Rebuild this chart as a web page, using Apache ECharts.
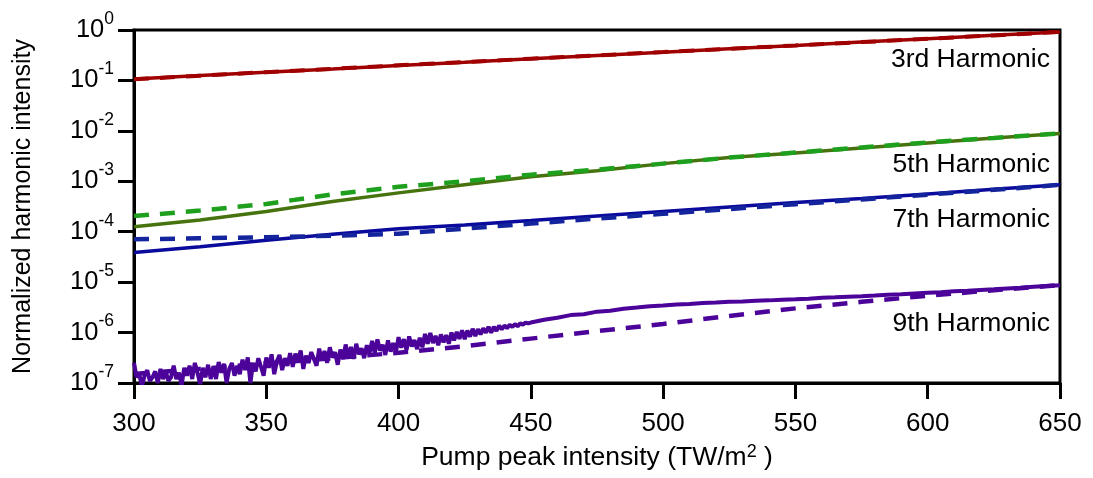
<!DOCTYPE html>
<html>
<head>
<meta charset="utf-8">
<script src="https://cdn.jsdelivr.net/npm/echarts@6/dist/echarts.min.js"></script>
<style>
  html, body { margin: 0; padding: 0; background: #fff; }
  #chart { width: 1093px; height: 478px; }
</style>
</head>
<body>
<div id="chart"></div>
<script>
// Pump peak intensity sampling (TW/m^2) for the smooth curves
const pumpGrid = [300, 325, 350, 375, 400, 425, 450, 475, 500, 525, 550, 575, 600, 625, 650];

// 3rd harmonic
const h3Measured = [0.107, 0.125, 0.146, 0.169, 0.198, 0.230, 0.269, 0.313, 0.364, 0.425, 0.494, 0.577, 0.671, 0.783, 0.912];
const h3Fit      = [0.105, 0.124, 0.146, 0.170, 0.199, 0.231, 0.270, 0.314, 0.365, 0.425, 0.493, 0.575, 0.670, 0.782, 0.915];

// 5th harmonic
const h5Measured = [1.26e-4, 1.70e-4, 2.51e-4, 3.98e-4, 5.89e-4, 8.51e-4, 1.23e-3, 1.62e-3, 2.24e-3, 2.95e-3, 3.63e-3, 4.57e-3, 5.75e-3, 7.24e-3, 8.91e-3];
const h5Fit      = [2.04e-4, 2.63e-4, 3.55e-4, 5.50e-4, 7.76e-4, 1.00e-3, 1.35e-3, 1.70e-3, 2.24e-3, 2.95e-3, 3.72e-3, 4.68e-3, 5.89e-3, 7.24e-3, 8.91e-3];

// 7th harmonic
const h7Measured = [3.89e-5, 5.01e-5, 6.76e-5, 8.91e-5, 1.15e-4, 1.36e-4, 1.66e-4, 2.04e-4, 2.51e-4, 3.09e-4, 3.80e-4, 4.57e-4, 5.62e-4, 6.92e-4, 8.51e-4];
const h7Fit      = [7.08e-5, 7.41e-5, 7.76e-5, 8.32e-5, 9.12e-5, 1.15e-4, 1.45e-4, 1.82e-4, 2.26e-4, 2.82e-4, 3.51e-4, 4.37e-4, 5.43e-4, 6.76e-4, 8.51e-4];

// 9th harmonic fit
const h9Fit      = [1.51e-7, 1.91e-7, 2.45e-7, 3.09e-7, 3.98e-7, 5.37e-7, 7.59e-7, 1.07e-6, 1.48e-6, 2.14e-6, 3.02e-6, 4.07e-6, 5.37e-6, 6.92e-6, 8.71e-6];

// 9th harmonic measurement: dense, noisy near the detection floor
const pump9 = [
  300, 301, 302, 303, 304, 305, 306, 307, 308, 309,
  310, 311, 312, 313, 314, 315, 316, 317, 318, 319,
  320, 321, 322, 323, 324, 325, 326, 327, 328, 329,
  330, 331, 332, 333, 334, 335, 336, 337, 338, 339,
  340, 341, 342, 343, 344, 345, 346, 347, 348, 349,
  350, 351, 352, 353, 354, 355, 356, 357, 358, 359,
  360, 361, 362, 363, 364, 365, 366, 367, 368, 369,
  370, 371, 372, 373, 374, 375, 376, 377, 378, 379,
  380, 381, 382, 383, 384, 385, 386, 387, 388, 389,
  390, 391, 392, 393, 394, 395, 396, 397, 398, 399,
  400, 401, 402, 403, 404, 405, 406, 407, 408, 409,
  410, 411, 412, 413, 414, 415, 416, 417, 418, 419,
  420, 421, 422, 423, 424, 425, 426, 427, 428, 429,
  430, 431, 432, 433, 434, 435, 436, 437, 438, 439,
  440, 441, 442, 443, 444, 445, 446, 447, 448, 449, 450,
  455, 460, 465, 470, 475, 480, 485, 490, 495, 500,
  505, 510, 515, 520, 525, 530, 535, 540, 545, 550,
  555, 560, 565, 570, 575, 580, 585, 590, 595, 600,
  605, 610, 615, 620, 625, 630, 635, 640, 645, 650
];
const h9Measured = [
  2.5e-7, 1.3e-7, 1.5e-7, 0.85e-7, 1.4e-7, 1.8e-7, 1.1e-7, 1.3e-7, 1.7e-7, 1.0e-7,
  1.9e-7, 1.2e-7, 1.7e-7, 1.1e-7, 1.3e-7, 2.2e-7, 1.2e-7, 1.6e-7, 0.9e-7, 2.0e-7,
  1.4e-7, 2.2e-7, 1.2e-7, 2.5e-7, 1.6e-7, 0.95e-7, 2.0e-7, 1.3e-7, 2.3e-7, 1.2e-7,
  2.1e-7, 1.2e-7, 2.6e-7, 1.6e-7, 2.4e-7, 1.0e-7, 1.9e-7, 2.5e-7, 1.4e-7, 2.2e-7,
  1.5e-7, 2.9e-7, 1.8e-7, 3.2e-7, 1.0e-7, 2.5e-7, 1.7e-7, 3.1e-7, 2.1e-7, 1.4e-7,
  3.2e-7, 2.0e-7, 3.7e-7, 1.5e-7, 2.7e-7, 3.6e-7, 1.8e-7, 3.1e-7, 2.2e-7, 3.9e-7,
  2.1e-7, 3.8e-7, 2.8e-7, 4.4e-7, 1.9e-7, 3.5e-7, 2.5e-7, 4.1e-7, 3.0e-7, 2.2e-7,
  4.8e-7, 2.8e-7, 4.3e-7, 2.5e-7, 5.1e-7, 3.2e-7, 4.1e-7, 2.3e-7, 4.6e-7, 3.0e-7,
  5.8e-7, 3.2e-7, 5.2e-7, 3.0e-7, 6.0e-7, 3.7e-7, 4.9e-7, 3.1e-7, 5.6e-7, 3.8e-7,
  6.8e-7, 3.9e-7, 7.3e-7, 4.4e-7, 5.7e-7, 3.6e-7, 7.0e-7, 4.2e-7, 6.2e-7, 4.1e-7,
  8.1e-7, 5.0e-7, 7.4e-7, 4.5e-7, 8.4e-7, 5.3e-7, 7.1e-7, 4.7e-7, 7.9e-7, 5.1e-7,
  9.4e-7, 6.0e-7, 9.8e-7, 6.2e-7, 8.6e-7, 5.6e-7, 9.2e-7, 6.4e-7, 8.9e-7, 6.0e-7,
  10.0e-7, 7.0e-7, 10.3e-7, 7.5e-7, 11.1e-7, 7.4e-7, 10.9e-7, 8.3e-7, 11.9e-7, 8.5e-7,
  11.7e-7, 9.2e-7, 12.1e-7, 9.9e-7, 13.0e-7, 9.9e-7, 13.0e-7, 10.8e-7, 13.8e-7, 11.5e-7,
  13.8e-7, 12.2e-7, 14.3e-7, 12.9e-7, 14.7e-7, 13.3e-7, 15.3e-7, 14.3e-7, 15.8e-7, 15.2e-7, 15.8e-7,
  1.80e-6, 1.97e-6, 2.22e-6, 2.31e-6, 2.60e-6, 2.72e-6, 2.98e-6, 3.13e-6, 3.34e-6, 3.45e-6,
  3.61e-6, 3.70e-6, 3.87e-6, 3.96e-6, 4.09e-6, 4.15e-6, 4.29e-6, 4.35e-6, 4.49e-6, 4.56e-6,
  4.68e-6, 4.90e-6, 5.01e-6, 5.13e-6, 5.25e-6, 5.43e-6, 5.62e-6, 5.75e-6, 5.96e-6, 6.17e-6,
  6.31e-6, 6.61e-6, 6.76e-6, 7.00e-6, 7.24e-6, 7.50e-6, 7.76e-6, 8.13e-6, 8.41e-6, 8.71e-6
];

const curveLabels = ['3rd Harmonic', '5th Harmonic', '7th Harmonic', '9th Harmonic'];
const xTicks = [300, 350, 400, 450, 500, 550, 600, 650];

const FONT = '"Liberation Sans", Arial, Helvetica, sans-serif';
const zip = (xs, ys) => xs.map((x, i) => [x, ys[i]]);

function solid(name, xs, ys, color, width) {
  return {
    name, type: 'line', data: zip(xs, ys), showSymbol: false, symbol: 'none',
    lineStyle: { color, width, type: 'solid', join: 'bevel' }, silent: true, animation: false
  };
}
function dashed(name, xs, ys, color, width) {
  return {
    name, type: 'line', data: zip(xs, ys), showSymbol: false, symbol: 'none',
    lineStyle: { color, width, type: [15, 11], cap: 'butt' }, silent: true, animation: false
  };
}

const chart = echarts.init(document.getElementById('chart'), null, { renderer: 'canvas' });

const curveLabel = (text, y) => ({
  type: 'text', right: 43, top: y, silent: true,
  style: { text, font: '26.5px ' + FONT, fill: '#000' }
});

chart.setOption({
  animation: false,
  backgroundColor: '#fff',
  grid: {
    left: 134, right: 33, top: 30, bottom: 95,
    show: true, borderColor: '#000', borderWidth: 3, backgroundColor: 'transparent'
  },
  xAxis: {
    type: 'value', min: 300, max: 650, interval: 50,
    axisLine: { show: true, lineStyle: { color: '#000', width: 3 } },
    axisTick: { show: true, inside: false, length: 16, lineStyle: { color: '#000', width: 3 },
      customValues: xTicks },
    axisLabel: { color: '#000', fontSize: 26, fontFamily: FONT, margin: 28, customValues: xTicks },
    splitLine: { show: false },
    name: '{a|Pump peak intensity (TW/m}{s|2}{a| )}',
    nameLocation: 'middle', nameGap: 60,
    nameTextStyle: {
      rich: {
        a: { fontSize: 26.5, fontFamily: FONT, color: '#000', lineHeight: 30 },
        s: { fontSize: 18, fontFamily: FONT, color: '#000', lineHeight: 18, verticalAlign: 'top' }
      }
    }
  },
  yAxis: {
    type: 'log', logBase: 10, min: 1e-7, max: 1,
    axisLine: { show: true, lineStyle: { color: '#000', width: 3 } },
    axisTick: { show: true, inside: false, length: 16, lineStyle: { color: '#000', width: 3 } },
    axisLabel: {
      margin: 20, align: 'right',
      formatter: v => '{b|10}{s|' + Math.round(Math.log10(v)) + '}',
      rich: {
        b: { fontSize: 25.5, fontFamily: FONT, color: '#000', lineHeight: 40 },
        s: { fontSize: 17.5, fontFamily: FONT, color: '#000', lineHeight: 14, verticalAlign: 'top' }
      }
    },
    splitLine: { show: false },
    minorTick: { show: false },
    name: 'Normalized harmonic intensity',
    nameLocation: 'middle', nameGap: 98,
    nameTextStyle: { fontSize: 25, fontFamily: FONT, color: '#000' }
  },
  series: [
    solid('h3', pumpGrid, h3Measured, '#a00000', 3.5),
    solid('h5', pumpGrid, h5Measured, '#47730f', 3.5),
    solid('h7', pumpGrid, h7Measured, '#0a0a9c', 3.5),
    solid('h9', pump9, h9Measured, '#4b0399', 4),
    dashed('h3 fit', pumpGrid, h3Fit, '#a00000', 4),
    dashed('h5 fit', pumpGrid, h5Fit, '#1ea01e', 4.5),
    dashed('h7 fit', pumpGrid, h7Fit, '#14249c', 4.5),
    dashed('h9 fit', pumpGrid, h9Fit, '#4b0399', 4.5)
  ],
  graphic: [
    curveLabel(curveLabels[0], 46),
    curveLabel(curveLabels[1], 151),
    curveLabel(curveLabels[2], 206),
    curveLabel(curveLabels[3], 310)
  ]
});
</script>
</body>
</html>
